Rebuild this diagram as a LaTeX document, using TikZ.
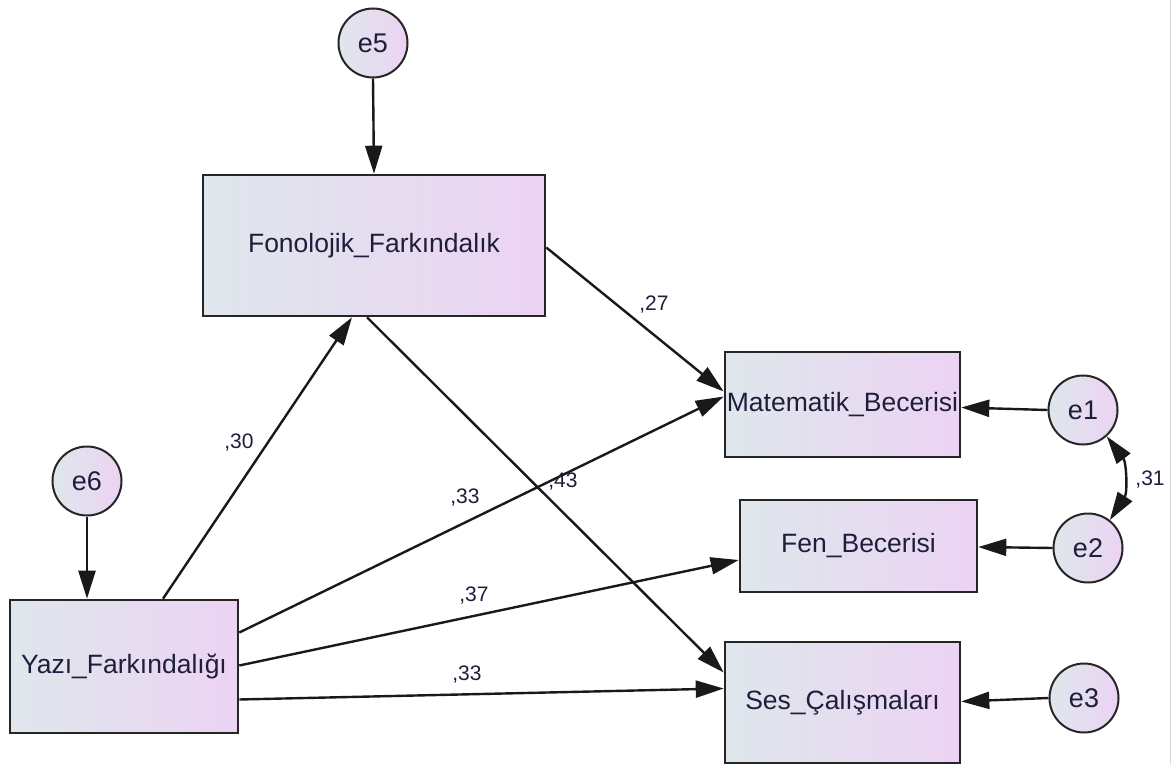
\documentclass[tikz,border=0pt]{standalone}
\usepackage{fontspec}
\setmainfont{Liberation Sans}
\usetikzlibrary{arrows.meta}
\definecolor{gl}{HTML}{DFE7EC}
\definecolor{gr}{HTML}{ECD3F3}
\definecolor{txt}{HTML}{1E1E3C}
\begin{document}
\begin{tikzpicture}[x=1pt,y=-1pt,
  obs/.style={draw=black!85, line width=2.6pt, left color=gl, right color=gr,
    inner sep=0pt, text=txt, font=\fontsize{26.5}{30}\selectfont},
  err/.style={circle, draw=black!85, line width=2pt, left color=gl, right color=gr,
    minimum size=69pt, inner sep=0pt, text=txt, font=\fontsize{27}{30}\selectfont},
  arr/.style={line width=2.4pt, draw=black!90, -{Triangle[length=28pt,width=17pt]}},
  lab/.style={font=\fontsize{21}{24}\selectfont, text=txt}]
\useasboundingbox (0,0) rectangle (1173,765);
\fill[white] (0,0) rectangle (1173,765);
\draw[black!15, line width=1pt] (1170,0) -- (1170,765);

% observed variables
\node[obs, minimum width=342pt, minimum height=141pt] (fon) at (374,245.5) {Fonolojik\_Farkındalık};
\node[obs, minimum width=228pt, minimum height=133pt] (yazi) at (124,666.5) {Yazı\_Farkındalığı};
\node[obs, minimum width=235pt, minimum height=105pt] (mat) at (842.5,404.5) {Matematik\_Becerisi};
\node[obs, minimum width=237pt, minimum height=92pt] (fen) at (858.5,546) {Fen\_Becerisi};
\node[obs, minimum width=235pt, minimum height=121pt] (ses) at (842.5,702.5) {Ses\_Çalışmaları};

% error terms
\node[err] (e5) at (373,43) {e5};
\node[err] (e6) at (87,481) {e6};
\node[err] (e1) at (1083,410) {e1};
\node[err] (e2) at (1088,548) {e2};
\node[err] (e3) at (1084,698) {e3};

% paths
\draw[arr] (e5.south) -- (fon.north);
\draw[arr] (e6.south) -- ([xshift=-37pt]yazi.north);
\draw[arr] ([xshift=39pt]yazi.north) -- ([xshift=-22pt]fon.south);
\draw[arr] ([xshift=-7pt]fon.south) -- ([yshift=30pt]ses.west);
\draw[arr] ([yshift=-2pt]fon.east) -- ([yshift=13pt]mat.west);
\draw[arr] ([yshift=34pt]yazi.east) -- ([yshift=8pt]mat.west);
\draw[arr] ([yshift=1pt]yazi.east) -- ([yshift=-14pt]fen.west);
\draw[arr] ([yshift=-33pt]yazi.east) -- ([yshift=14pt]ses.west);
\draw[arr] (e1.west) -- ([yshift=-3pt]mat.east);
\draw[arr] (e2.west) -- ([yshift=-1pt]fen.east);
\draw[arr] (e3.west) -- ([yshift=1pt]ses.east);
\draw[line width=2.4pt, draw=black!90, {Triangle[length=28pt,width=17pt]}-{Triangle[length=28pt,width=17pt]}]
  (e1.-48) to[bend left=35] (e2.52);

% labels
\node[lab] (l30) at (239,443) {,30};
\node[lab] (l43) at (563,482) {,43};
\node[lab] (l27) at (654,305) {,27};
\node[lab] (l33a) at (465,498) {,33};
\node[lab] (l37) at (474,596) {,37};
\node[lab] (l33b) at (467,675) {,33};
\node[lab] (l31) at (1150,480) {,31};
\end{tikzpicture}
\end{document}
